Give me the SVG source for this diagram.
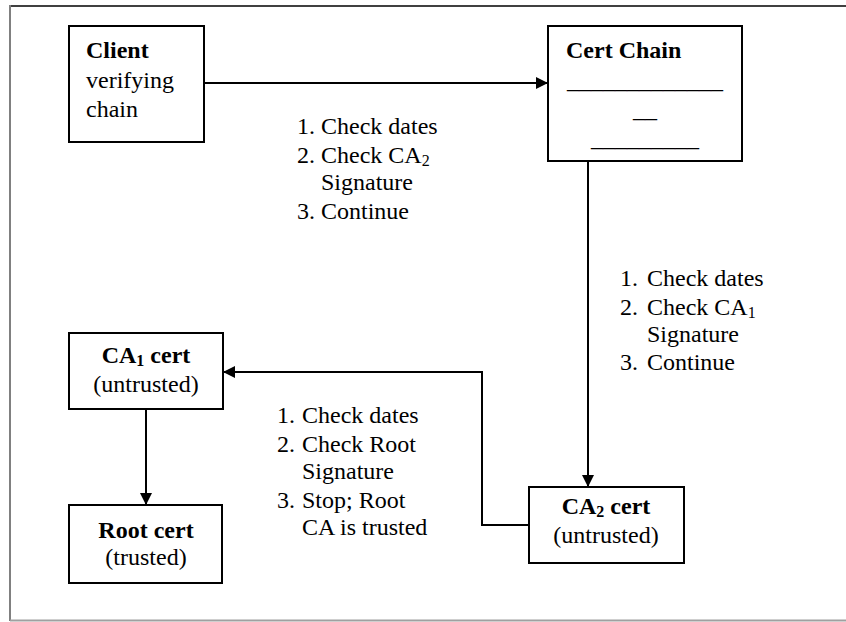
<svg xmlns="http://www.w3.org/2000/svg" width="846" height="622" viewBox="0 0 846 622">
<defs>
<marker id="ah" viewBox="0 0 12 12" refX="12" refY="6" markerWidth="12" markerHeight="12" markerUnits="userSpaceOnUse" orient="auto">
<path d="M0,0 L12,6 L0,12 Z" fill="#000"/>
</marker>
<style>
text{font-family:'Liberation Serif','Times New Roman',Times,serif;font-size:24px;fill:#000}
.b{font-weight:bold}
.box{fill:#fff;stroke:#000;stroke-width:2}
.c{text-anchor:middle}
.ln{fill:none;stroke:#000;stroke-width:2}
.sub{font-size:16px}
</style>
</defs>
<rect width="846" height="622" fill="#fff"/>
<g id="frame">
<line x1="10" y1="6" x2="846" y2="6" stroke="#404040" stroke-width="2"/>
<line x1="10" y1="5" x2="10" y2="621" stroke="#808080" stroke-width="2"/>
<line x1="10" y1="620.5" x2="846" y2="620.5" stroke="#a0a0a0" stroke-width="2"/>
</g>
<g id="connectors">
<line class="ln" x1="204" y1="83" x2="548" y2="83" marker-end="url(#ah)"/>
<line class="ln" x1="588" y1="161" x2="588" y2="487" marker-end="url(#ah)"/>
<polyline class="ln" points="529,525 482,525 482,372 223,372" marker-end="url(#ah)"/>
<line class="ln" x1="146" y1="409" x2="146" y2="505" marker-end="url(#ah)"/>
</g>
<g id="client">
<rect class="box" x="69" y="26" width="135" height="116"/>
<text x="86" y="58" class="b">Client</text>
<text x="86" y="88">verifying</text>
<text x="86" y="117">chain</text>
</g>
<g id="certchain">
<rect class="box" x="548" y="26" width="194" height="135"/>
<text x="566" y="58" class="b">Cert Chain</text>
<text x="645" y="88" class="c">_____________</text>
<text x="645" y="117" class="c">__</text>
<text x="645" y="146" class="c">_________</text>
</g>
<g id="ca2">
<rect class="box" x="529" y="487" width="155" height="76"/>
<text x="606" y="514" class="b c">CA<tspan class="sub" baseline-shift="-3">2</tspan> cert</text>
<text x="606" y="543" class="c">(untrusted)</text>
</g>
<g id="ca1">
<rect class="box" x="69" y="333" width="154" height="76"/>
<text x="146" y="363" class="b c">CA<tspan class="sub" baseline-shift="-3">1</tspan> cert</text>
<text x="146" y="392" class="c">(untrusted)</text>
</g>
<g id="root">
<rect class="box" x="69" y="505" width="153" height="78"/>
<text x="146" y="538" class="b c">Root cert</text>
<text x="146" y="565" class="c">(trusted)</text>
</g>
<g id="label1">
<text x="297" y="134">1.</text><text x="321" y="134">Check dates</text>
<text x="297" y="163">2.</text><text x="321" y="163">Check CA<tspan class="sub" baseline-shift="-3">2</tspan></text>
<text x="321" y="190">Signature</text>
<text x="297" y="219">3.</text><text x="321" y="219">Continue</text>
</g>
<g id="label2">
<text x="620" y="286">1.</text><text x="647" y="286">Check dates</text>
<text x="620" y="315">2.</text><text x="647" y="315">Check CA<tspan class="sub" baseline-shift="-3">1</tspan></text>
<text x="647" y="342">Signature</text>
<text x="620" y="370">3.</text><text x="647" y="370">Continue</text>
</g>
<g id="label3">
<text x="277" y="423">1.</text><text x="302" y="423">Check dates</text>
<text x="277" y="452">2.</text><text x="302" y="452">Check Root</text>
<text x="302" y="479">Signature</text>
<text x="277" y="508">3.</text><text x="302" y="508">Stop; Root</text>
<text x="302" y="535">CA is trusted</text>
</g>
</svg>
